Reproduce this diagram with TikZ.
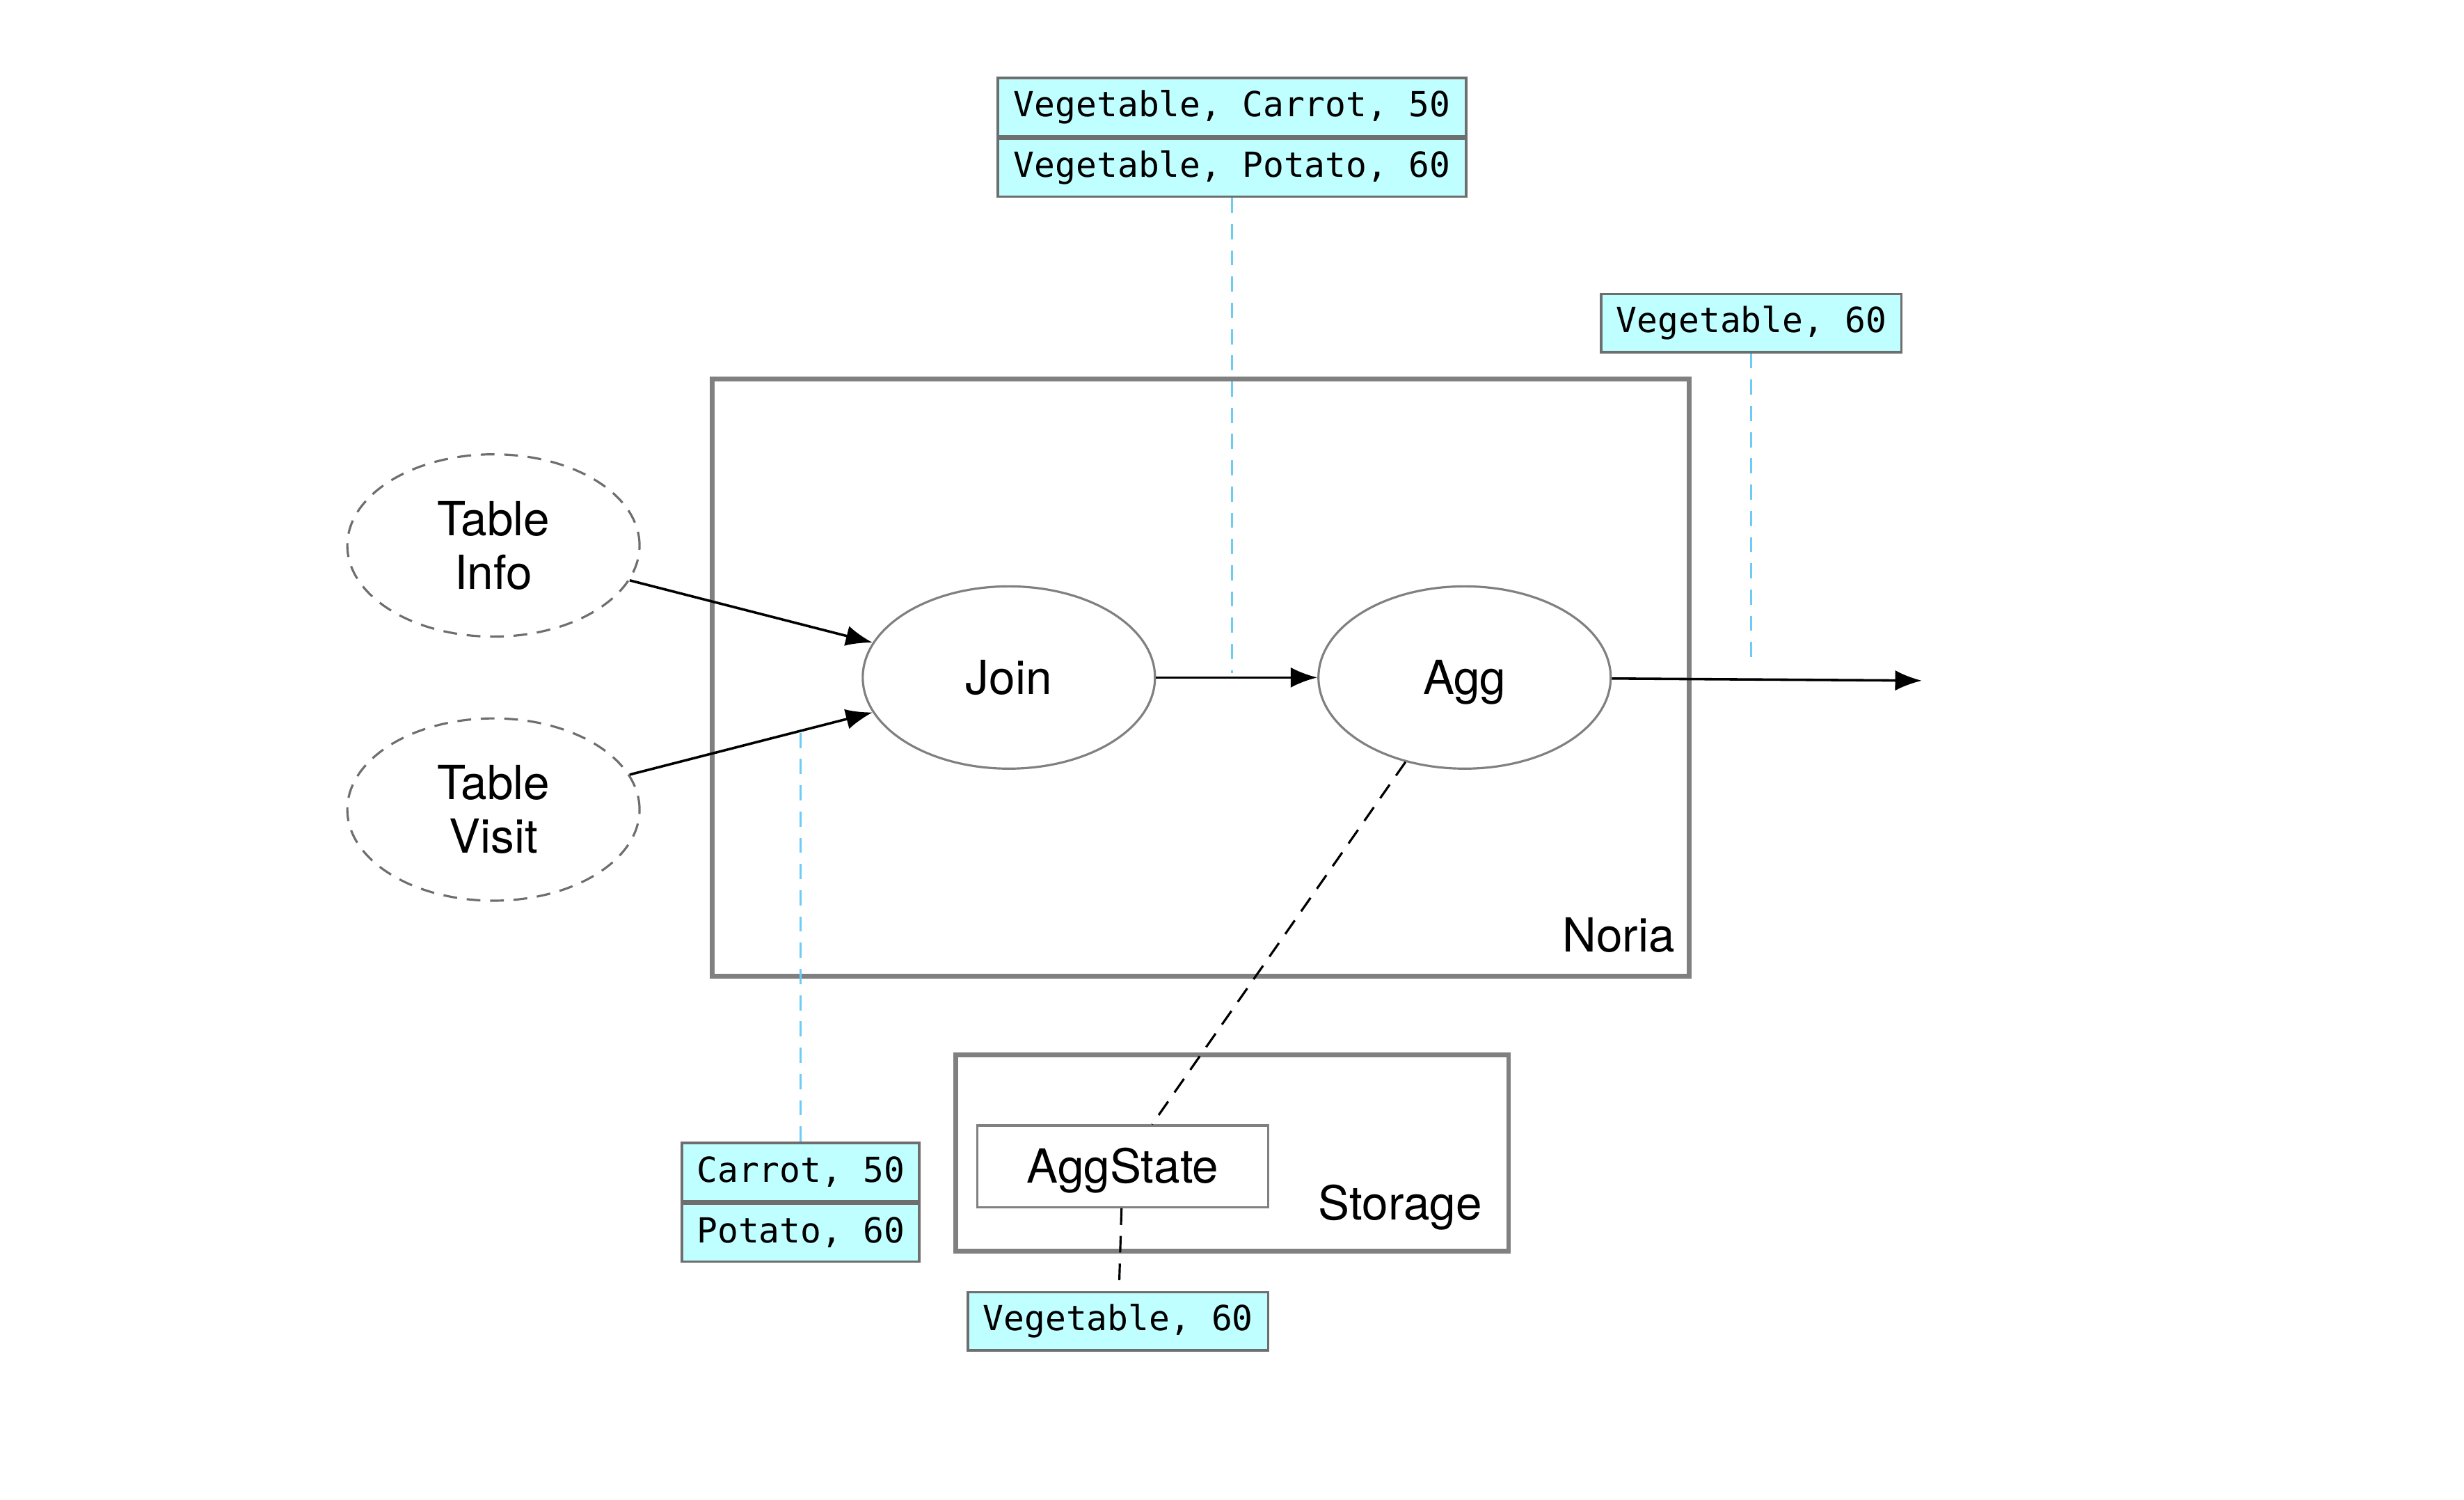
\documentclass[tikz,border=0pt]{standalone}
\usepackage{fontspec}
\setmainfont{TeX Gyre Heros}
\setmonofont{DejaVu Sans Mono}
\usetikzlibrary{arrows.meta,positioning,shapes.geometric}
\definecolor{cinzaescuro}{RGB}{110,110,110}
\definecolor{cinzamedio}{RGB}{128,128,128}
\definecolor{cianoclaro}{RGB}{192,255,255}
\definecolor{azulclaro}{RGB}{108,204,246}
\tikzset{
  operador/.style={ellipse,draw=cinzamedio,line width=0.8pt,minimum width=37.2mm,
    minimum height=23.2mm,inner sep=0pt,align=center,font=\fontsize{17}{19.5}\selectfont},
  tabela/.style={operador,draw=cinzaescuro,dash pattern=on 5pt off 3.5pt},
  linha/.style={rectangle,draw=cinzaescuro,fill=cianoclaro,line width=0.9pt,
    minimum height=7.4mm,inner sep=0pt,font=\ttfamily\fontsize{12.5}{14}\selectfont},
  caixa/.style={rectangle,draw=cinzamedio,line width=1.7pt},
  estado/.style={rectangle,draw=cinzamedio,line width=0.8pt,minimum width=37mm,
    minimum height=10.4mm,text height=12.2pt,text depth=0pt,
    font=\fontsize{17}{19.5}\selectfont},
  rotulo/.style={font=\fontsize{17}{19.5}\selectfont},
  seta/.style={-{Latex[length=3.4mm,width=2.6mm]},line width=0.9pt},
  rastro/.style={azulclaro,line width=0.8pt,dash pattern=on 5.5pt off 4pt},
  ligacao/.style={line width=0.8pt,dash pattern=on 6pt off 4pt}
}

\begin{document}
\begin{tikzpicture}[x=0.02cm,y=-0.02cm]
\useasboundingbox (0,0) rectangle (1568,954);
% caixas
\node[caixa,minimum width=124.4mm,minimum height=76mm] (noria) at (764,431) {};
\node[caixa,minimum width=70.4mm,minimum height=25mm] (storage) at (784,733.5) {};
\node[rotulo] (lnoria) at (1030,595) {Noria};
\node[rotulo] (lstorage) at (891,768) {Storage};
% operadores
\node[tabela] (info) at (314,347) {Table\\Info};
\node[tabela] (visit) at (314,515) {Table\\Visit};
\node[operador,text height=12.2pt,text depth=0pt] (join) at (642,431) {Join};
\node[operador,text height=12.2pt,text depth=0pt] (agg) at (932,431) {Agg};
\node[estado] (aggstate) at (714.5,742) {AggState};
\coordinate (saida) at (1223,433);
% tuplas
\node[linha,minimum width=59.6mm] (jv1) at (784,68) {Vegetable, Carrot, 50};
\node[linha,minimum width=59.6mm,below=0pt of jv1] (jv2) {Vegetable, Potato, 60};
\node[linha,minimum width=38.2mm] (ag1) at (1114.5,205.5) {Vegetable, 60};
\node[linha,minimum width=30.2mm] (vi1) at (509.5,745.5) {Carrot, 50};
\node[linha,minimum width=30.2mm,below=0pt of vi1] (vi2) {Potato, 60};
\node[linha,minimum width=38.2mm] (st1) at (711.5,840.5) {Vegetable, 60};
\coordinate (pjv) at (784,428);
\coordinate (pag) at (1114.5,425);
\coordinate (pvi) at (509.5,465);
% fluxo
\draw[seta] (info) -- (join);
\draw[seta] (visit) -- (join);
\draw[seta] (join) -- (agg);
\draw[seta] (agg) -- (saida);
\draw[ligacao] (agg) -- (aggstate);
\draw[ligacao] (aggstate) -- (st1);
\draw[rastro] (jv2) -- (pjv);
\draw[rastro] (ag1) -- (pag);
\draw[rastro] (vi1) -- (pvi);
\end{tikzpicture}
\end{document}
